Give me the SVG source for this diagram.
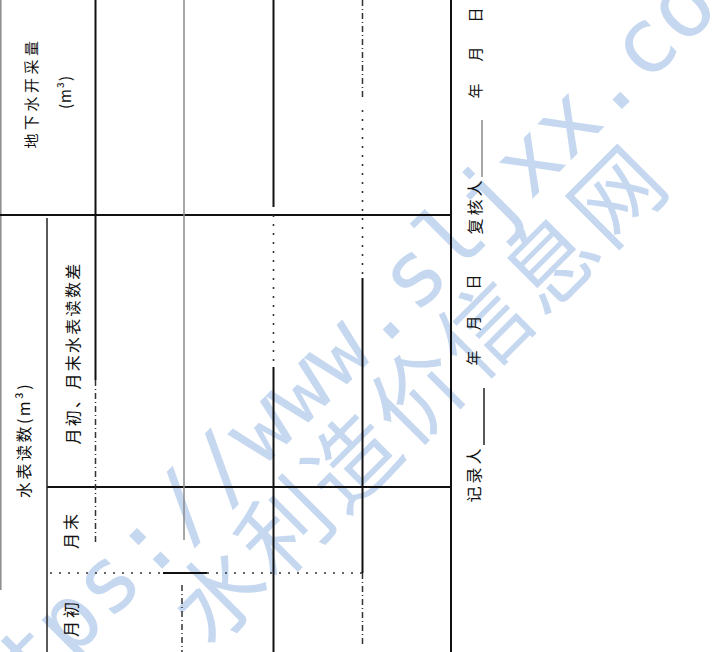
<svg xmlns="http://www.w3.org/2000/svg" width="716" height="652" viewBox="0 0 716 652">
<style>
.wm{fill:#c5d8f0;}
.t{font-family:"Noto Sans CJK SC","Noto Sans CJK JP",sans-serif;fill:#111;dominant-baseline:central;text-anchor:middle;}
.solid{stroke:#111;stroke-width:2;fill:none;}
.thin{stroke:#222;stroke-width:1.5;fill:none;}
.gray{stroke:#8a8a8a;stroke-width:1.5;fill:none;}
.dash{stroke:#333;stroke-width:1.5;fill:none;stroke-dasharray:6 3 1 3;}
.dot{stroke:#333;stroke-width:1.6;fill:none;stroke-dasharray:2 7;}
</style>
<rect width="716" height="652" fill="#ffffff"/>
<g id="watermark">
<text class="wm" transform="translate(-44.5,775.6) rotate(-45)" font-family="'DejaVu Sans Mono',monospace" font-size="90">https://www.sljxx.com</text>
<text class="wm" transform="translate(210,650) rotate(-45)" font-family="'Noto Sans CJK SC',sans-serif" font-size="90" letter-spacing="4">水利造价信息网</text>
</g>
<g id="grid">
<line class="gray" x1="0.8" y1="0" x2="0.8" y2="590"/>
<line class="solid" x1="0" y1="215" x2="451" y2="215"/>
<line class="solid" x1="47" y1="487" x2="451" y2="487"/>
<path class="dot" d="M50 573H160"/>
<path class="solid" d="M163 573H207"/>
<path class="dot" d="M207 573H362"/>
<line class="thin" x1="47" y1="218" x2="47" y2="652"/>
<line class="solid" x1="95.5" y1="0" x2="95.5" y2="380"/>
<line class="dash" x1="95.5" y1="380" x2="95.5" y2="545"/>
<line class="gray" x1="184" y1="0" x2="184" y2="540"/>
<line class="dash" x1="182" y1="585" x2="182" y2="652"/>
<line class="solid" x1="273.5" y1="0" x2="273.5" y2="207"/>
<line class="dot" x1="273.5" y1="215" x2="273.5" y2="365"/>
<line class="solid" x1="273.5" y1="367" x2="273.5" y2="652"/>
<line class="dash" x1="362.5" y1="0" x2="362.5" y2="97"/>
<line class="dot" x1="362.5" y1="110" x2="362.5" y2="275"/>
<line class="solid" x1="362.5" y1="278" x2="362.5" y2="573"/>
<line class="dash" x1="362.5" y1="573" x2="362.5" y2="645"/>
<line class="solid" x1="451" y1="0" x2="451" y2="652"/>
<line class="thin" x1="484" y1="388" x2="484" y2="445"/>
<line class="gray" x1="482" y1="120" x2="482" y2="177" stroke="#bbb"/>
</g>
<g id="col-groundwater">
<text class="t" transform="translate(30,93) rotate(-90)" font-size="15" letter-spacing="3.5">地下水开采量</text>
<text class="t" transform="translate(64,92) rotate(-90)" font-size="15" letter-spacing="1">(m³)</text>
</g>
<g id="col-meter">
<text class="t" transform="translate(23,440) rotate(-90)" font-size="16" letter-spacing="2.5">水表读数(m³)</text>
</g>
<g id="col-diff">
<text class="t" transform="translate(72,353) rotate(-90)" font-size="16" letter-spacing="2.3">月初、月末水表读数差</text>
</g>
<g id="col-end">
<text class="t" transform="translate(70,530) rotate(-90)" font-size="16" letter-spacing="3">月末</text>
</g>
<g id="col-start">
<text class="t" transform="translate(70,618) rotate(-90)" font-size="16" letter-spacing="3">月初</text>
</g>
<g id="footer-recorder">
<text class="t" transform="translate(473,474) rotate(-90)" font-size="16" letter-spacing="3">记录人</text>
<text class="t" transform="translate(472,358) rotate(-90)" font-size="15">年</text>
<text class="t" transform="translate(472,323) rotate(-90)" font-size="15">月</text>
<text class="t" transform="translate(472,282) rotate(-90)" font-size="15">日</text>
</g>
<g id="footer-checker">
<text class="t" transform="translate(474,206) rotate(-90)" font-size="16" letter-spacing="3">复核人</text>
<text class="t" transform="translate(474,91) rotate(-90)" font-size="15">年</text>
<text class="t" transform="translate(474,54) rotate(-90)" font-size="15">月</text>
<text class="t" transform="translate(474,15) rotate(-90)" font-size="15">日</text>
</g>
</svg>
